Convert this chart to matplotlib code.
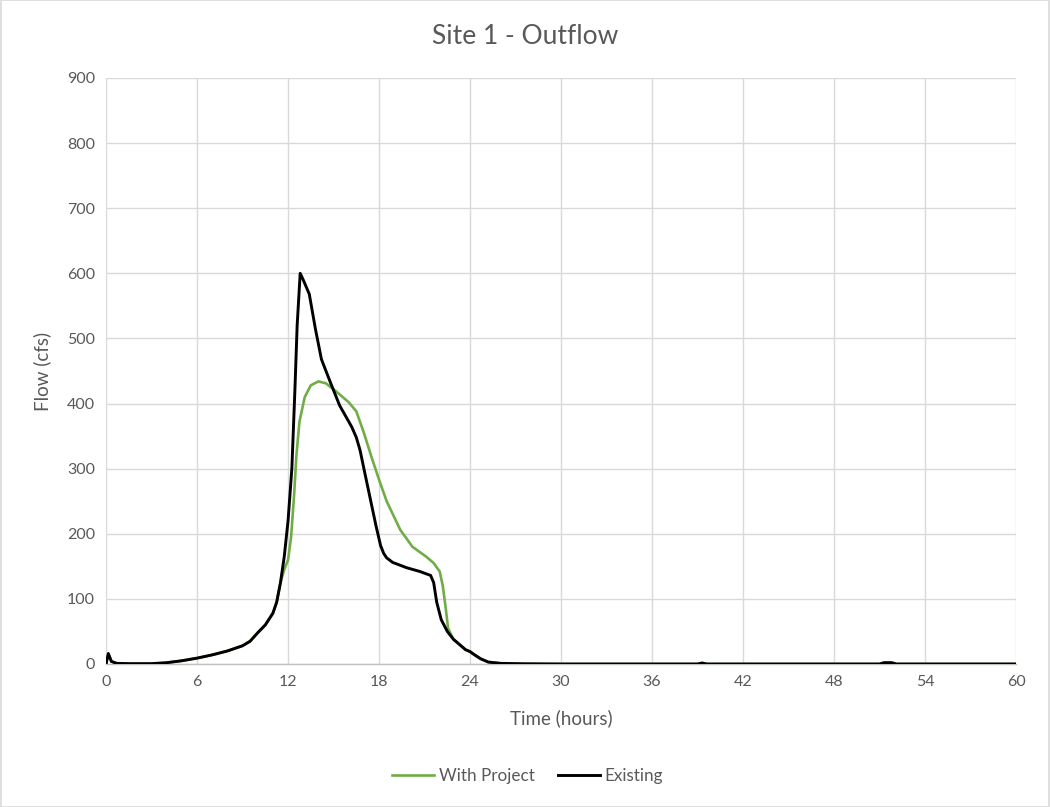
import matplotlib
matplotlib.use("Agg")
import matplotlib.pyplot as plt
from matplotlib.patches import Rectangle

plt.rcParams['font.family'] = ['Lato', 'DejaVu Sans']

# Existing outflow hydrograph (hours, cfs)
existing_t = [0, 0.15, 0.35, 0.7, 1.5, 3, 4, 5, 6, 7, 8, 9, 9.5, 10, 10.5, 11, 11.25,
              11.5, 11.75, 12, 12.25, 12.45, 12.6, 12.8, 13.0, 13.4, 13.8, 14.2, 14.8,
              15.4, 16.2, 16.5, 16.75, 17.0, 17.3, 17.8, 18.1, 18.3, 18.5, 18.9, 19.8,
              20.7, 21.4, 21.6, 21.8, 22.1, 22.5, 22.9, 23.4, 23.7, 24.0, 24.3, 24.7,
              25.2, 26, 27.5, 30, 39.0, 39.3, 39.6, 51.0, 51.3, 51.8, 52.1, 60]
existing_q = [0, 16, 4, 1, 0.5, 0.5, 2, 5, 9, 14, 20, 28, 35, 48, 60, 78, 95,
              125, 165, 220, 300, 420, 520, 600, 590, 568, 515, 468, 432,
              397, 364, 348, 328, 300, 267, 212, 182, 170, 163, 156, 148,
              142, 136, 125, 95, 68, 50, 38, 28, 22, 19, 14, 8,
              3, 1, 0.3, 0, 0, 1.5, 0, 0, 2, 2, 0, 0]

# With-project outflow hydrograph (hours, cfs)
project_t = [0, 0.15, 0.35, 0.7, 1.5, 3, 4, 5, 6, 7, 8, 9, 9.5, 10, 10.5, 11, 11.25,
             11.5, 11.75, 12.0, 12.2, 12.4, 12.55, 12.75, 13.1, 13.5, 14.0, 14.5,
             15.2, 16.0, 16.5, 17.0, 17.5, 18.0, 18.5, 19.4, 20.2, 21.1, 21.6, 22.0,
             22.2, 22.4, 22.55, 22.9, 23.4, 23.7, 24.0, 24.3, 24.7, 25.2, 26,
             27.5, 30, 39.0, 39.3, 39.6, 51.0, 51.3, 51.8, 52.1, 60]
project_q = [0, 16, 4, 1, 0.5, 0.5, 2, 5, 9, 14, 20, 28, 35, 48, 60, 78, 95,
             125, 145, 160, 195, 260, 320, 372, 410, 428, 434, 431,
             418, 402, 388, 355, 318, 283, 250, 206, 180, 165, 155, 142,
             120, 85, 55, 38, 28, 22, 19, 14, 8, 3, 1,
             0.3, 0, 0, 1.5, 0, 0, 2, 2, 0, 0]

x_ticks = list(range(0, 61, 6))
y_ticks = list(range(0, 901, 100))

text_color = '#595959'
grid_color = '#D9D9D9'

fig = plt.figure(figsize=(10.5, 8.07), dpi=100)
fig.patches.append(Rectangle((0.0005, 0.0005), 0.999, 0.999, transform=fig.transFigure,
                             fill=False, edgecolor='#D9D9D9', linewidth=1.2))
ax = fig.add_axes([0.101, 0.1772, 0.8667, 0.7262])

ax.plot(project_t, project_q, color='#70AD47', linewidth=1.9, label='With Project',
        solid_joinstyle='round', zorder=3)
ax.plot(existing_t, existing_q, color='#000000', linewidth=2.1, label='Existing',
        solid_joinstyle='round', zorder=4)

ax.set_xlim(0, 60)
ax.set_ylim(0, 900)
ax.set_xticks(x_ticks)
ax.set_yticks(y_ticks)
ax.grid(True, color=grid_color, linewidth=1.0)
ax.set_axisbelow(True)
for side in ['top', 'right', 'left']:
    ax.spines[side].set_visible(False)
ax.spines['bottom'].set_color('#BFBFBF')
ax.spines['bottom'].set_linewidth(1.0)
ax.tick_params(axis='both', length=0, labelsize=11.5, labelcolor=text_color, pad=8)

xl = ax.set_xlabel('Time (hours)', fontsize=13.5, color=text_color)
xl.set_va('center')
ax.xaxis.set_label_coords(0.5, -0.092)
yl = ax.set_ylabel('Flow (cfs)', fontsize=13.5, color=text_color)
yl.set_va('center')
ax.yaxis.set_label_coords(-(106 - 42.5) / 910, 0.5)

fig.text(0.5, 0.955, 'Site 1 - Outflow', ha='center', va='center', fontsize=19,
         color=text_color)

fig.legend(loc='center', bbox_to_anchor=(527.5 / 1050, 0.0388), ncol=2, frameon=False,
           fontsize=12.3, labelcolor=text_color, handlelength=2.45, handletextpad=0.3,
           columnspacing=1.35)

fig.savefig('out.png', dpi=100, facecolor='white')
